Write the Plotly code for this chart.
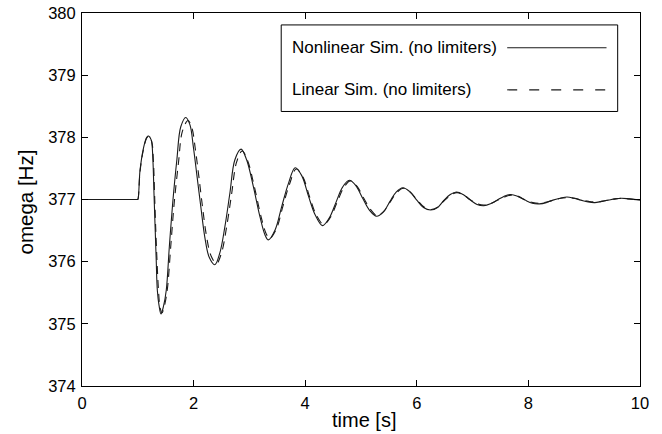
import plotly.graph_objects as go

# ---- data ----
t_nonlinear = [0, 0.99, 1.0, 1.04, 1.10, 1.16, 1.195, 1.24, 1.27, 1.29, 1.31, 1.33, 1.35, 1.38,
               1.416, 1.46, 1.51, 1.565, 1.625, 1.70, 1.77, 1.86, 1.935, 1.995, 2.055, 2.13,
               2.20, 2.28, 2.38, 2.47, 2.56, 2.65, 2.74, 2.85, 2.95, 3.07, 3.19, 3.28, 3.34,
               3.46, 3.58, 3.70, 3.82, 3.94, 4.06, 4.18, 4.31, 4.43, 4.55, 4.67, 4.79, 4.91,
               5.03, 5.15, 5.28, 5.40, 5.52, 5.63, 5.75, 5.87, 6.00, 6.12, 6.25, 6.37, 6.48,
               6.60, 6.71, 6.83, 6.96, 7.08, 7.20, 7.32, 7.44, 7.56, 7.68, 7.81, 7.94, 8.07,
               8.20, 8.32, 8.44, 8.57, 8.69, 8.82, 8.94, 9.07, 9.19, 9.31, 9.43, 9.55, 9.67,
               9.80, 10.0]
omega_nonlinear = [377, 377, 377, 377.47, 377.82, 378.0, 378.02, 377.96, 377.64, 377.10, 376.56,
                   376.03, 375.54, 375.30, 375.16, 375.28, 375.54, 376.24, 376.94, 377.64,
                   378.17, 378.32, 378.2, 377.85, 377.42, 376.88, 376.40, 376.07, 375.95,
                   376.14, 376.56, 377.10, 377.64, 377.81, 377.64, 377.21, 376.72, 376.43,
                   376.35, 376.51, 376.89, 377.26, 377.51, 377.38, 377.05, 376.75, 376.58,
                   376.70, 376.95, 377.20, 377.31, 377.22, 377.02, 376.83, 376.73, 376.80,
                   376.97, 377.12, 377.19, 377.13, 376.99, 376.87, 376.83, 376.87, 376.98,
                   377.08, 377.12, 377.08, 376.99, 376.92, 376.90, 376.93, 376.99, 377.05,
                   377.08, 377.05, 376.99, 376.94, 376.93, 376.95, 376.99, 377.02, 377.04,
                   377.02, 376.99, 376.96, 376.95, 376.97, 376.99, 377.01, 377.02, 377.01,
                   376.99]

t_linear = [0, 0.99, 1.0, 1.04, 1.10, 1.16, 1.20, 1.25, 1.28, 1.30, 1.32, 1.345, 1.37, 1.40,
            1.435, 1.48, 1.53, 1.59, 1.65, 1.73, 1.80, 1.90, 1.97, 2.03, 2.09, 2.16, 2.23,
            2.31, 2.41, 2.50, 2.59, 2.68, 2.77, 2.87, 2.97, 3.09, 3.21, 3.30, 3.36, 3.48,
            3.60, 3.72, 3.84, 3.96, 4.08, 4.20, 4.33, 4.45, 4.57, 4.69, 4.81, 4.93, 5.05,
            5.17, 5.29, 5.41, 5.53, 5.64, 5.76, 5.88, 6.01, 6.13, 6.26, 6.38, 6.49, 6.61,
            6.72, 6.84, 6.97, 7.09, 7.21, 7.33, 7.45, 7.57, 7.69, 7.82, 7.95, 8.08, 8.21,
            8.33, 8.45, 8.58, 8.70, 8.83, 8.95, 9.08, 9.20, 9.32, 9.44, 9.56, 9.68, 9.81,
            10.0]
omega_linear = [377, 377, 377, 377.45, 377.80, 377.99, 378.02, 377.93, 377.62, 377.10, 376.56,
                376.00, 375.55, 375.26, 375.18, 375.30, 375.56, 376.24, 376.92, 377.60,
                378.10, 378.27, 378.15, 377.82, 377.40, 376.88, 376.42, 376.10, 375.97,
                376.14, 376.55, 377.08, 377.60, 377.78, 377.62, 377.20, 376.72, 376.45,
                376.37, 376.52, 376.89, 377.25, 377.49, 377.36, 377.04, 376.75, 376.60,
                376.71, 376.95, 377.19, 377.30, 377.21, 377.02, 376.84, 376.74, 376.81,
                376.97, 377.11, 377.18, 377.12, 376.99, 376.88, 376.84, 376.88, 376.98,
                377.07, 377.11, 377.07, 376.99, 376.93, 376.91, 376.94, 376.99, 377.04,
                377.07, 377.05, 376.99, 376.95, 376.94, 376.96, 376.99, 377.02, 377.03,
                377.02, 376.99, 376.97, 376.96, 376.97, 376.99, 377.01, 377.02, 377.01,
                376.99]

x_ticks = [0, 2, 4, 6, 8, 10]
y_ticks = [374, 375, 376, 377, 378, 379, 380]
legend_labels = ["Nonlinear Sim. (no limiters)", "Linear Sim. (no limiters)"]
x_title = "time [s]"
y_title = "omega [Hz]"

FONT = "Liberation Sans, Arial, Helvetica, sans-serif"
LINE = "#1a1a1a"

fig = go.Figure()
fig.add_trace(go.Scatter(x=t_nonlinear, y=omega_nonlinear, mode="lines",
                         line=dict(color=LINE, width=1.1, shape="spline", smoothing=1),
                         name=legend_labels[0], showlegend=False))
fig.add_trace(go.Scatter(x=t_linear, y=omega_linear, mode="lines",
                         line=dict(color=LINE, width=1.1, shape="spline", smoothing=1,
                                   dash="8px,6px"),
                         name=legend_labels[1], showlegend=False))

axis_common = dict(showgrid=False, zeroline=False, showline=True, linecolor="black",
                   linewidth=1, mirror="ticks", ticks="inside", ticklen=6,
                   tickcolor="black", tickfont=dict(family=FONT, size=16.5, color="black"))

fig.update_xaxes(range=[0, 10], tickvals=x_ticks, ticktext=[str(v) for v in x_ticks],
                 ticklabelstandoff=2, **axis_common)
fig.update_yaxes(range=[374, 380], tickvals=y_ticks, ticktext=[str(v) for v in y_ticks],
                 ticklabelstandoff=2, **axis_common)

# axis titles as annotations for precise placement
fig.add_annotation(text=x_title, xref="paper", yref="paper", x=0.5, y=0, xshift=3, yshift=-34,
                   xanchor="center", yanchor="middle", showarrow=False,
                   font=dict(family=FONT, size=20, color="black"))
fig.add_annotation(text=y_title, xref="paper", yref="paper", x=0, y=0.5, xshift=-57, yshift=-3,
                   xanchor="center", yanchor="middle", showarrow=False, textangle=-90,
                   font=dict(family=FONT, size=20.5, color="black"))

# MATLAB-style legend box (text on the left, line sample on the right)
fig.add_shape(type="rect", xref="paper", yref="paper", x0=0.357, x1=0.96, y0=0.736, y1=0.968,
              line=dict(color="black", width=1), fillcolor="white", layer="above")
row_y = [0.907, 0.794]
for i, lab in enumerate(legend_labels):
    fig.add_annotation(text=lab, xref="paper", yref="paper", x=0.372, y=row_y[i],
                       xanchor="left", yanchor="middle", showarrow=False,
                       font=dict(family=FONT, size=17, color="black"))
fig.add_shape(type="line", xref="paper", yref="paper", x0=0.762, x1=0.94,
              y0=row_y[0], y1=row_y[0], line=dict(color=LINE, width=1.1), layer="above")
fig.add_shape(type="line", xref="paper", yref="paper", x0=0.762, x1=0.94,
              y0=row_y[1], y1=row_y[1], line=dict(color=LINE, width=1.1, dash="10px,12px"),
              layer="above")

fig.update_layout(width=662, height=434, margin=dict(l=82, r=22, t=13, b=48, autoexpand=False),
                  paper_bgcolor="white", plot_bgcolor="white", showlegend=False,
                  font=dict(family=FONT, color="black"))

# remove the default 8px page margin so the figure fills the window exactly; hide the modebar
fig.write_html("out.html", config={"displayModeBar": False},
               post_script="document.body.style.margin='0px';")
